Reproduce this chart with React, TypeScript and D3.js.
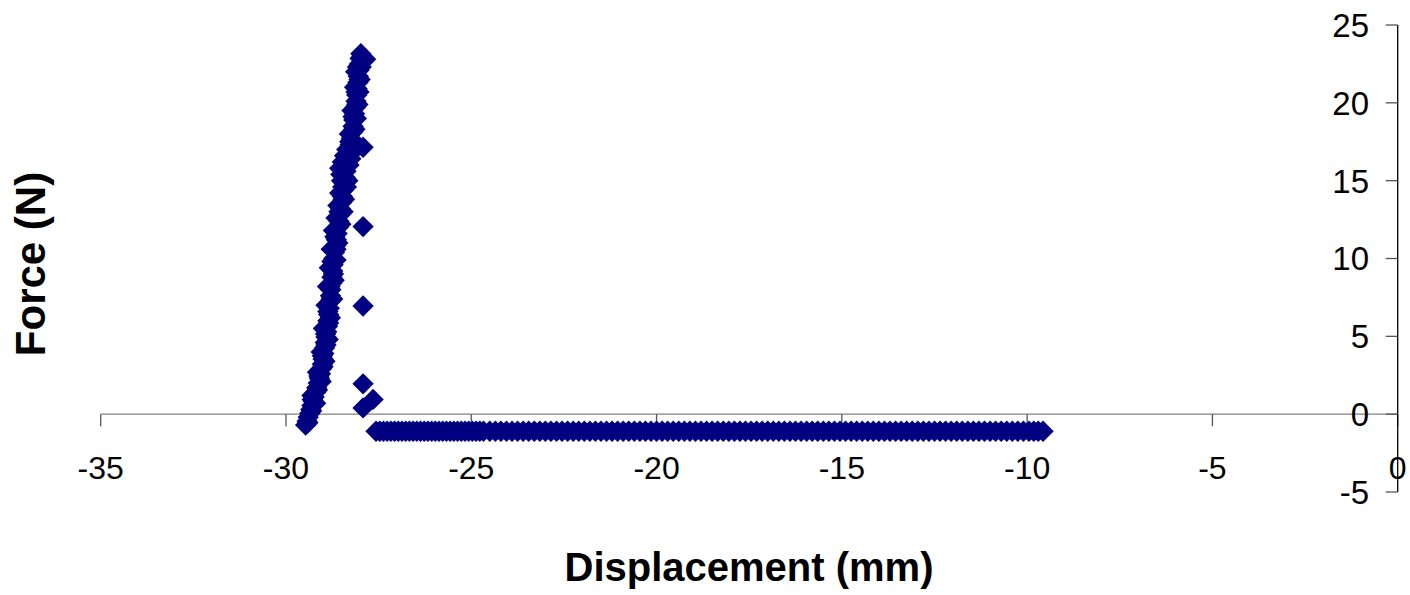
import React from "react";
import * as d3 from "d3";

const xTicks = [-35, -30, -25, -20, -15, -10, -5, 0];
const yTicks = [-5, 0, 5, 10, 15, 20, 25];

// Loading branch: displacement (mm) and force (N)
const loadDisp = [
  -29.47, -29.43, -29.4, -29.36, -29.33, -29.3, -29.27, -29.24, -29.2, -29.17,
  -29.13, -29.1, -29.07, -29.05, -29.02, -29.0, -28.98, -28.96, -28.94, -28.92,
  -28.9, -28.88, -28.87, -28.85, -28.83, -28.82, -28.8, -28.79, -28.77, -28.76,
  -28.74, -28.73, -28.71, -28.69, -28.67, -28.64, -28.62, -28.59, -28.57, -28.55,
  -28.53, -28.5, -28.48, -28.45, -28.43, -28.4, -28.52, -28.38, -28.55, -28.3,
  -28.48, -28.25, -28.42, -28.3, -28.27, -28.24, -28.21, -28.19, -28.17, -28.15,
  -28.13, -28.11, -28.09, -28.08, -28.06, -28.05, -28.03, -28.02, -28.0, -27.98,
  -27.85,
];
const loadForce = [
  -0.7, -0.45, -0.2, 0.05, 0.3, 0.55, 0.85, 1.1, 1.4, 1.7,
  2.0, 2.3, 2.6, 2.9, 3.2, 3.55, 3.9, 4.25, 4.6, 4.95,
  5.3, 5.65, 6.0, 6.4, 6.8, 7.2, 7.6, 8.0, 8.4, 8.8,
  9.2, 9.6, 10.0, 10.4, 10.8, 11.2, 11.6, 12.0, 12.4, 12.8,
  13.2, 13.6, 14.0, 14.4, 14.8, 15.2, 15.4, 15.6, 15.8, 16.0,
  16.2, 16.4, 16.6, 16.9, 17.3, 17.7, 18.1, 18.5, 18.9, 19.3,
  19.7, 20.1, 20.5, 20.9, 21.3, 21.7, 22.1, 22.5, 22.85, 23.15,
  22.8,
];

// Further loading samples filling the middle of the band
const loadDispC = [
  -29.41, -29.31, -29.29, -29.15, -29.11, -29.0, -29.02, -28.92, -28.93, -28.85,
  -28.87, -28.78, -28.81, -28.72, -28.76, -28.65, -28.68, -28.55, -28.57, -28.46,
  -28.47, -28.45, -28.4, -28.35, -28.28, -28.17, -28.19, -28.09, -28.11, -28.03,
  -28.07, -27.95,
];
const loadForceC = [
  -0.55, 0.2, 0.95, 1.55, 2.45, 3.05, 3.75, 4.45, 5.15, 5.85,
  6.6, 7.4, 8.2, 9.0, 9.8, 10.6, 11.4, 12.2, 13.0, 13.8,
  14.6, 15.5, 16.1, 16.7, 17.5, 18.3, 19.1, 19.9, 20.7, 21.5,
  22.3, 23.0,
];

// Scatter on the right edge of the loading band
const loadDispR = [
  -29.2, -29.05, -28.95, -28.86, -28.8, -28.74, -28.7, -28.65, -28.6, -28.52,
  -28.46, -28.42, -28.37, -28.33, -28.22, -28.18, -28.14, -28.1, -28.06, -28.03,
  -28.0, -27.97,
];
const loadForceR = [
  0.7, 2.1, 3.4, 4.8, 6.2, 7.4, 8.6, 9.9, 11.0, 12.2,
  13.0, 13.8, 14.6, 15.0, 16.8, 17.5, 18.3, 19.0, 19.9, 20.7,
  21.5, 22.3,
];

// Scatter on the left edge of the loading band
const loadDispL = [
  -29.3, -29.15, -29.05, -28.99, -28.92, -28.88, -28.83, -28.78, -28.72, -28.65,
  -28.6, -28.55, -28.5, -28.36, -28.29, -28.22, -28.15, -28.12,
];
const loadForceL = [
  1.2, 2.7, 4.0, 5.5, 7.0, 8.2, 9.4, 10.6, 11.8, 12.6,
  13.4, 14.2, 15.0, 17.0, 18.0, 19.5, 21.0, 22.0,
];

// Sudden drop after break
const dropDisp = [-27.92, -27.92, -27.92, -27.92, -27.65, -27.92];
const dropForce = [17.15, 12.05, 6.95, 1.95, 0.95, 0.4];

// Flat tail after break
const tailForce = -1.1;
const tailDisp = [
  -27.57, -27.47, -27.37, -27.27, -27.17, -27.07, -26.97, -26.87, -26.77, -26.67,
  -26.57, -26.47, -26.37, -26.27, -26.17, -26.07, -25.97, -25.87, -25.77, -25.67,
  -25.57, -25.47, -25.37, -25.27, -25.17, -25.07, -24.97, -24.87, -24.77, -24.67,
  -24.5, -24.35, -24.2, -24.05, -23.9, -23.75, -23.6, -23.45, -23.3, -23.15,
  -23.0, -22.85, -22.7, -22.55, -22.4, -22.25, -22.1, -21.95, -21.8, -21.65,
  -21.5, -21.35, -21.2, -21.05, -20.9, -20.75, -20.6, -20.45, -20.3, -20.15,
  -20.0, -19.85, -19.7, -19.55, -19.4, -19.25, -19.1, -18.95, -18.8, -18.65,
  -18.5, -18.35, -18.2, -18.05, -17.9, -17.75, -17.6, -17.45, -17.3, -17.15,
  -17.0, -16.85, -16.7, -16.55, -16.4, -16.25, -16.1, -15.95, -15.8, -15.65,
  -15.5, -15.35, -15.2, -15.05, -14.9, -14.75, -14.6, -14.45, -14.3, -14.15,
  -14.0, -13.85, -13.7, -13.55, -13.4, -13.25, -13.1, -12.95, -12.8, -12.65,
  -12.5, -12.35, -12.2, -12.05, -11.9, -11.75, -11.6, -11.45, -11.3, -11.15,
  -11.0, -10.85, -10.7, -10.55, -10.4, -10.25, -10.1, -9.95, -9.82, -9.7,
  -9.57,
];

const W = 1410;
const H = 595;
const FONT = "'Liberation Sans', Arial, sans-serif";
const COLOR = "#000080";

const diamondType = {
  draw(context: any, size: number) {
    const r = Math.sqrt(size / 2);
    context.moveTo(0, -r);
    context.lineTo(r, 0);
    context.lineTo(0, r);
    context.lineTo(-r, 0);
    context.closePath();
  },
};

export default function App() {
  const x = d3.scaleLinear().domain([-35, 0]).range([100.7, 1397.7]);
  const y = d3.scaleLinear().domain([-5, 25]).range([492, 25]);

  const points: [number, number][] = [];
  loadDisp.forEach((d, i) => points.push([d, loadForce[i]]));
  loadDispC.forEach((d, i) => points.push([d, loadForceC[i]]));
  loadDispR.forEach((d, i) => points.push([d, loadForceR[i]]));
  loadDispL.forEach((d, i) => points.push([d, loadForceL[i]]));
  dropDisp.forEach((d, i) => points.push([d, dropForce[i]]));
  tailDisp.forEach((d) => points.push([d, tailForce]));

  const sym = d3.symbol().type(diamondType as any).size(228)();
  const y0 = y(0);
  const xAxisX = x(0);

  return (
    <svg
      width={W}
      height={H}
      style={{ position: "absolute", left: 0, top: 0, background: "#fff" }}
      fontFamily={FONT}
    >
      <rect x={0} y={0} width={W} height={H} fill="#fff" />
      {/* x axis */}
      <line x1={x(-35)} x2={x(0)} y1={y0} y2={y0} stroke="#808080" strokeWidth={1.3} />
      {xTicks.map((t) => (
        <g key={"xt" + t}>
          <line x1={x(t)} x2={x(t)} y1={y0} y2={y0 + 12} stroke="#555" strokeWidth={1.3} />
          <text x={x(t)} y={479} textAnchor="middle" fontSize={32} fill="#000">
            {t}
          </text>
        </g>
      ))}
      {/* y axis */}
      <line x1={xAxisX} x2={xAxisX} y1={y(25)} y2={y(-5)} stroke="#000" strokeWidth={1.3} />
      {yTicks.map((t) => (
        <g key={"yt" + t}>
          <line x1={xAxisX - 12} x2={xAxisX} y1={y(t)} y2={y(t)} stroke="#555" strokeWidth={1.3} />
          <text x={1369} y={y(t)} dy="0.36em" textAnchor="end" fontSize={33} fill="#000">
            {t}
          </text>
        </g>
      ))}
      {/* points */}
      <g fill={COLOR}>
        {points.map((p, i) => (
          <path key={i} d={sym as string} transform={`translate(${x(p[0])},${y(p[1])})`} />
        ))}
      </g>
      {/* titles */}
      <text x={749} y={581} textAnchor="middle" fontSize={40} fontWeight="bold" fill="#000">
        Displacement (mm)
      </text>
      <text
        transform="translate(45,264) rotate(-90)"
        textAnchor="middle"
        fontSize={42}
        fontWeight="bold"
        fill="#000"
      >
        Force (N)
      </text>
    </svg>
  );
}
